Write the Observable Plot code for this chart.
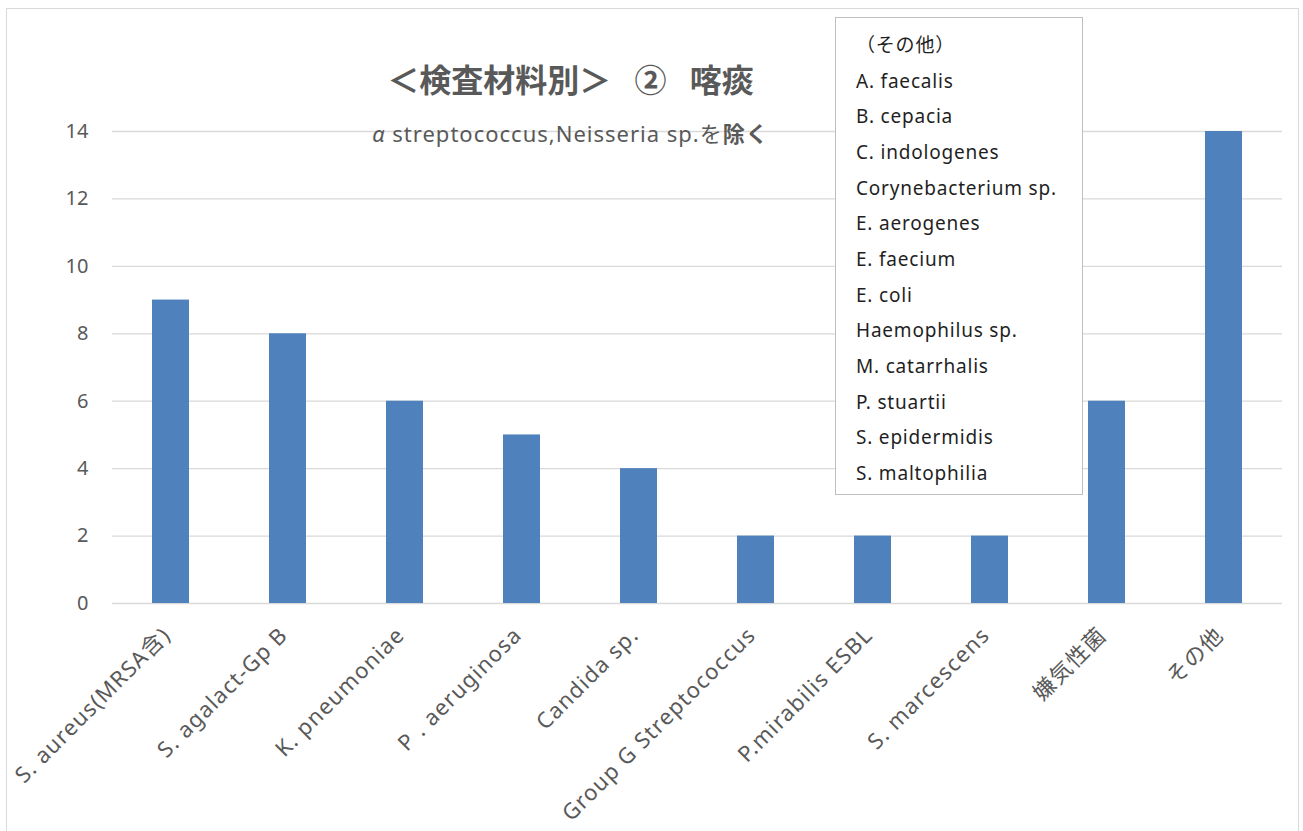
<!DOCTYPE html>
<html>
<head>
<meta charset="utf-8">
<script src="https://cdn.jsdelivr.net/npm/d3@7"></script>
<script src="https://cdn.jsdelivr.net/npm/@observablehq/plot@0.6"></script>
<style>
  html, body { margin: 0; padding: 0; background: #fff; }
  #wrap { position: relative; width: 1303px; height: 831px; overflow: hidden; font-family: "Noto Sans", "Noto Sans CJK JP", sans-serif; }
  #frame { position: absolute; left: 6px; top: 8px; width: 1293px; height: 840px; border: 1.5px solid #d9d9d9; box-sizing: border-box; }
  #chart { position: absolute; left: 0; top: 0; }
  #chart g[aria-label="x-axis tick label"] text { letter-spacing: 1.2px; }
  #title { position: absolute; left: 0; width: 1141px; top: 62px; text-align: center; font-family: "Noto Sans CJK JP", sans-serif; font-size: 32px; font-weight: bold; color: #595959; line-height: 1; white-space: pre; word-spacing: 16px; }
  #subtitle { position: absolute; left: 0; width: 1141px; top: 121px; text-align: center; font-size: 22px; letter-spacing: 1px; color: #595959; line-height: 1; white-space: pre; }
  #subtitle i { font-style: italic; font-weight: normal; }
  #subtitle b { font-weight: bold; font-family: "Noto Sans CJK JP", sans-serif; }
  #others { position: absolute; left: 835px; top: 17px; width: 248px; height: 478px; box-sizing: border-box; background: #fff; border: 1.5px solid #bfbfbf; padding: 10px 0 0 20px; }
  #others div { font-size: 19px; letter-spacing: 0.8px; line-height: 35.67px; height: 35.67px; color: #1f1f1f; white-space: nowrap; }
</style>
</head>
<body>
<div id="wrap">
  <div id="frame"></div>
  <div id="chart"></div>
  <div id="title"></div>
  <div id="subtitle"></div>
  <div id="others"></div>
</div>
<script>
const categories = ["S. aureus(MRSA含)", "S. agalact-Gp B", "K. pneumoniae", "P . aeruginosa", "Candida sp.", "Group G Streptococcus", "P.mirabilis ESBL", "S. marcescens", "嫌気性菌", "その他"];
const counts = [9, 8, 6, 5, 4, 2, 2, 2, 6, 14];
const yTicks = [0, 2, 4, 6, 8, 10, 12, 14];
const titleText = "＜検査材料別＞ ② 喀痰";
const subtitleAlpha = "α";
const subtitleMain = " streptococcus,Neisseria sp.を";
const subtitleBold = "除く";
const othersHeader = "（その他）";
const othersList = ["A. faecalis", "B. cepacia", "C. indologenes", "Corynebacterium sp.", "E. aerogenes", "E. faecium", "E. coli", "Haemophilus sp.", "M. catarrhalis", "P. stuartii", "S. epidermidis", "S. maltophilia"];

const data = categories.map((c, i) => ({name: c, value: counts[i]}));

const chart = Plot.plot({
  width: 1303,
  height: 831,
  marginLeft: 112,
  marginRight: 21,
  marginTop: 131,
  marginBottom: 228,
  style: {fontFamily: "'Noto Sans', 'Noto Sans CJK JP', sans-serif", background: "transparent"},
  x: {domain: categories, paddingInner: 0.68, paddingOuter: 0.34, label: null},
  y: {domain: [0, 14], label: null},
  marks: [
    Plot.gridY(yTicks, {stroke: "#d9d9d9", strokeOpacity: 1, strokeWidth: 1.3}),
    Plot.barY(data, {x: "name", y: "value", fill: "#4f81bd"}),
    Plot.axisY(yTicks, {tickSize: 0, tickPadding: 24, fontSize: 20, fill: "#595959", label: null}),
    Plot.axisX({tickRotate: -45, tickSize: 0, tickPadding: 0, dx: -4, dy: 28, fontSize: 22, fill: "#595959", label: null})
  ]
});
document.getElementById("chart").appendChild(chart);

document.getElementById("title").textContent = titleText;
const sub = document.getElementById("subtitle");
const a = document.createElement("i");
a.textContent = subtitleAlpha;
sub.appendChild(a);
sub.appendChild(document.createTextNode(subtitleMain));
const b = document.createElement("b");
b.textContent = subtitleBold;
sub.appendChild(b);

const box = document.getElementById("others");
[othersHeader, ...othersList].forEach(t => {
  const d = document.createElement("div");
  d.textContent = t;
  box.appendChild(d);
});
</script>
</body>
</html>
